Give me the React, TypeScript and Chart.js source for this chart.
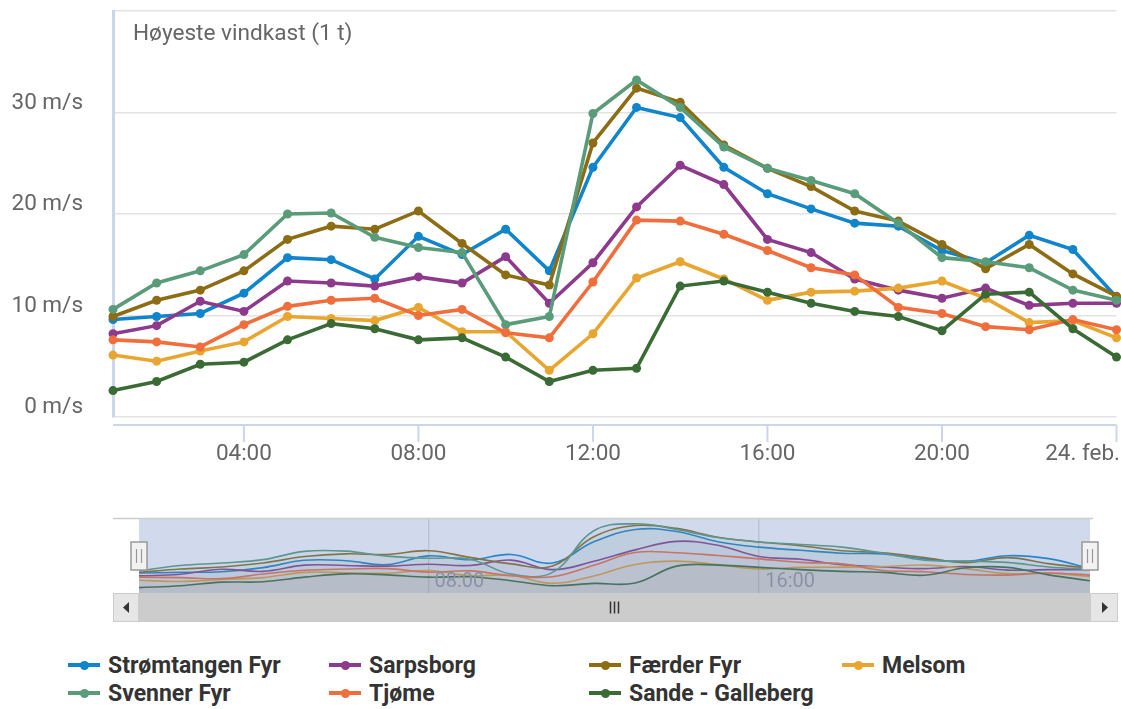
import React, { useEffect, useRef } from "react";
import { Chart, registerables } from "chart.js";

Chart.register(...registerables);
Chart.defaults.font.family = "Roboto";

// ---- data ----
const hours = [1, 2, 3, 4, 5, 6, 7, 8, 9, 10, 11, 12, 13, 14, 15, 16, 17, 18, 19, 20, 21, 22, 23, 24];

const stromtangenFyr = [9.6, 9.9, 10.2, 12.2, 15.7, 15.5, 13.6, 17.8, 16.0, 18.5, 14.4, 24.6, 30.5, 29.5, 24.6, 22.0, 20.5, 19.1, 18.8, 16.4, 15.2, 17.9, 16.5, 11.8];
const sarpsborg = [8.2, 9.0, 11.4, 10.4, 13.4, 13.2, 12.9, 13.8, 13.2, 15.8, 11.2, 15.2, 20.7, 24.8, 22.9, 17.5, 16.2, 13.6, 12.5, 11.7, 12.7, 11.0, 11.2, 11.2];
const faerderFyr = [9.9, 11.5, 12.5, 14.4, 17.5, 18.8, 18.5, 20.3, 17.1, 14.0, 13.0, 27.0, 32.4, 31.0, 26.8, 24.5, 22.7, 20.3, 19.3, 17.0, 14.6, 17.0, 14.1, 11.9];
const melsom = [6.1, 5.5, 6.5, 7.4, 9.9, 9.7, 9.5, 10.8, 8.4, 8.4, 4.6, 8.2, 13.7, 15.3, 13.6, 11.5, 12.3, 12.4, 12.7, 13.4, 11.7, 9.3, 9.5, 7.8];
const svennerFyr = [10.6, 13.2, 14.4, 16.0, 20.0, 20.1, 17.7, 16.7, 16.2, 9.1, 9.9, 29.9, 33.2, 30.5, 26.6, 24.5, 23.3, 22.0, 19.1, 15.7, 15.3, 14.7, 12.5, 11.5];
const tjome = [7.6, 7.4, 6.9, 9.1, 10.9, 11.5, 11.7, 10.0, 10.6, 8.3, 7.8, 13.3, 19.4, 19.3, 18.0, 16.4, 14.7, 14.0, 10.8, 10.2, 8.9, 8.6, 9.6, 8.6];
const sandeGalleberg = [2.6, 3.5, 5.2, 5.4, 7.6, 9.2, 8.7, 7.6, 7.8, 5.9, 3.5, 4.6, 4.8, 12.9, 13.4, 12.3, 11.2, 10.4, 9.9, 8.5, 12.1, 12.3, 8.7, 5.9];

const seriesNames = ["Strømtangen Fyr", "Sarpsborg", "Færder Fyr", "Melsom", "Svenner Fyr", "Tjøme", "Sande - Galleberg"];
const seriesValues = [stromtangenFyr, sarpsborg, faerderFyr, melsom, svennerFyr, tjome, sandeGalleberg];

const xTickValues = [4, 8, 12, 16, 20, 24];
const xTickLabels = ["04:00", "08:00", "12:00", "16:00", "20:00", "24. feb."];
const navTickValues = [8, 16];
const navTickLabels = ["08:00", "16:00"];
const yTickValues = [0, 10, 20, 30, 40];
const yUnit = " m/s";
const chartTitle = "Høyeste vindkast (1 t)";

// ---- styles ----
const seriesColors = ["#1085cc", "#8e3a8c", "#8c6d14", "#e8a530", "#5a9c7a", "#f06e3c", "#3b6b35"];

function withAlpha(hex: string, a: number) {
  const r = parseInt(hex.slice(1, 3), 16);
  const g = parseInt(hex.slice(3, 5), 16);
  const b = parseInt(hex.slice(5, 7), 16);
  return `rgba(${r},${g},${b},${a})`;
}

const toPoints = (vals: number[]) => vals.map((v, i) => ({ x: hours[i], y: v }));

const mainXAxisPlugin = {
  id: "mainXAxis",
  afterDraw(chart: any) {
    const { ctx, chartArea, scales } = chart;
    const xs = scales.x;
    const axisY = chartArea.bottom + 8;
    ctx.save();
    ctx.strokeStyle = "#ccd6eb";
    ctx.lineWidth = 2;
    ctx.beginPath();
    ctx.moveTo(chartArea.left, axisY);
    ctx.lineTo(chartArea.right, axisY);
    ctx.stroke();
    ctx.font = "22.5px Roboto";
    ctx.fillStyle = "#666666";
    ctx.textBaseline = "middle";
    ctx.textAlign = "center";
    xTickValues.forEach((v, i) => {
      const px = xs.getPixelForValue(v);
      ctx.beginPath();
      ctx.moveTo(px, axisY);
      ctx.lineTo(px, axisY + 17);
      ctx.stroke();
      const label = xTickLabels[i];
      const w = ctx.measureText(label).width;
      let cx = px;
      if (cx + w / 2 > chart.width - 1) cx = chart.width - 1 - w / 2;
      ctx.fillText(label, cx, axisY + 29);
    });
    ctx.restore();
  },
};

const navigatorPlugin = {
  id: "navigatorDeco",
  afterDatasetsDraw(chart: any) {
    const { ctx, chartArea, scales } = chart;
    const xs = scales.x;
    const { left, right, top, bottom } = chartArea;
    ctx.save();
    // labels inside navigator
    ctx.font = "20px Roboto";
    ctx.fillStyle = "#999999";
    ctx.textBaseline = "alphabetic";
    ctx.textAlign = "left";
    navTickValues.forEach((v, i) => {
      ctx.fillText(navTickLabels[i], xs.getPixelForValue(v) + 6, bottom - 6);
    });
    // mask
    ctx.fillStyle = "rgba(102,133,194,0.3)";
    ctx.fillRect(left, top, right - left, bottom - top);
    // outline
    ctx.strokeStyle = "#cccccc";
    ctx.lineWidth = 1.5;
    ctx.beginPath();
    ctx.moveTo(left - 26, top + 0.5);
    ctx.lineTo(right + 3, top + 0.5);
    ctx.stroke();
    // scrollbar
    const sTop = bottom;
    const sH = 29;
    ctx.fillStyle = "#cccccc";
    ctx.fillRect(left, sTop, right - left, sH);
    ctx.fillStyle = "#e6e6e6";
    ctx.strokeStyle = "#cccccc";
    ctx.lineWidth = 1;
    ctx.fillRect(left - 26, sTop, 26, sH);
    ctx.strokeRect(left - 25.5, sTop + 0.5, 25, sH - 1);
    ctx.fillRect(right, sTop, 28, sH);
    ctx.strokeRect(right + 0.5, sTop + 0.5, 27, sH - 1);
    ctx.fillStyle = "#333333";
    const my = sTop + sH / 2;
    ctx.beginPath();
    ctx.moveTo(left - 16, my);
    ctx.lineTo(left - 10, my - 5.5);
    ctx.lineTo(left - 10, my + 5.5);
    ctx.closePath();
    ctx.fill();
    ctx.beginPath();
    ctx.moveTo(right + 18, my);
    ctx.lineTo(right + 12, my - 5.5);
    ctx.lineTo(right + 12, my + 5.5);
    ctx.closePath();
    ctx.fill();
    const gx = (left + right) / 2;
    ctx.strokeStyle = "#333333";
    ctx.lineWidth = 1.5;
    [-4, 0, 4].forEach((d) => {
      ctx.beginPath();
      ctx.moveTo(gx + d, my - 6);
      ctx.lineTo(gx + d, my + 6);
      ctx.stroke();
    });
    // handles
    [left, right].forEach((cx) => {
      ctx.fillStyle = "#f2f2f2";
      ctx.strokeStyle = "#999999";
      ctx.lineWidth = 1.5;
      ctx.fillRect(cx - 8, top + 24, 16, 28);
      ctx.strokeRect(cx - 8, top + 24, 16, 28);
      ctx.lineWidth = 1.2;
      [-2.5, 2.5].forEach((d) => {
        ctx.beginPath();
        ctx.moveTo(cx + d, top + 31);
        ctx.lineTo(cx + d, top + 45);
        ctx.stroke();
      });
    });
    ctx.restore();
  },
};

export default function App() {
  const mainRef = useRef<HTMLCanvasElement>(null);
  const navRef = useRef<HTMLCanvasElement>(null);

  useEffect(() => {
    const n = seriesValues.length;
    const main = new Chart(mainRef.current as HTMLCanvasElement, {
      type: "line",
      data: {
        datasets: seriesValues.map((vals, i) => ({
          label: seriesNames[i],
          data: toPoints(vals),
          borderColor: seriesColors[i],
          backgroundColor: seriesColors[i],
          pointBackgroundColor: seriesColors[i],
          pointBorderWidth: 0,
          pointRadius: 4.5,
          borderWidth: 3.6,
          tension: 0,
          clip: false as any,
          order: n - i,
        })),
      },
      options: {
        responsive: false,
        animation: false,
        events: [],
        layout: { padding: { top: 11, right: 4, left: 0, bottom: 0 } },
        plugins: { legend: { display: false }, tooltip: { enabled: false }, title: { display: false } },
        scales: {
          x: {
            type: "linear",
            min: hours[0],
            max: hours[hours.length - 1],
            ticks: { display: false },
            grid: { display: false },
            border: { display: false },
            afterFit: (s: any) => {
              s.height = 63;
              s.paddingLeft = 0;
              s.paddingRight = 0;
            },
          },
          y: {
            type: "linear",
            min: yTickValues[0],
            max: yTickValues[yTickValues.length - 1],
            afterBuildTicks: (s: any) => {
              s.ticks = yTickValues.map((v) => ({ value: v }));
            },
            ticks: {
              callback: (v: any) => (v === yTickValues[yTickValues.length - 1] ? "" : v + yUnit),
              font: { size: 22.5, family: "Roboto" },
              color: "#666666",
              padding: 30,
              labelOffset: -9.5,
            },
            grid: { color: "#e3e3e3", lineWidth: 1.5, drawTicks: false },
            border: { display: true, color: "#ccd6eb", width: 3 },
            afterFit: (s: any) => {
              s.width = 113;
              s.paddingTop = 0;
              s.paddingBottom = 0;
            },
          },
        },
      },
      plugins: [mainXAxisPlugin],
    });

    const nav = new Chart(navRef.current as HTMLCanvasElement, {
      type: "line",
      data: {
        datasets: seriesValues.map((vals, i) => ({
          label: seriesNames[i],
          data: toPoints(vals),
          borderColor: seriesColors[i],
          backgroundColor: withAlpha(seriesColors[i], 0.05),
          fill: "origin",
          pointRadius: 0,
          borderWidth: 1.6,
          tension: 0.4,
          order: n - i,
        })),
      },
      options: {
        responsive: false,
        animation: false,
        events: [],
        layout: { padding: { top: 18, right: 31, left: 139, bottom: 37 } },
        plugins: { legend: { display: false }, tooltip: { enabled: false }, title: { display: false } },
        scales: {
          x: {
            type: "linear",
            min: hours[0],
            max: hours[hours.length - 1],
            afterBuildTicks: (s: any) => {
              s.ticks = navTickValues.map((v) => ({ value: v }));
            },
            ticks: { display: false },
            grid: { color: "#e0e0e0", lineWidth: 1.5, drawTicks: false },
            border: { display: false },
            afterFit: (s: any) => {
              s.height = 0;
              s.paddingLeft = 0;
              s.paddingRight = 0;
            },
          },
          y: { type: "linear", min: 0, max: 36, display: false },
        },
      },
      plugins: [navigatorPlugin],
    });

    return () => {
      main.destroy();
      nav.destroy();
    };
  }, []);

  const legendCols = [68, 329, 589, 842];
  const legendRows = [665, 693];

  return (
    <div style={{ position: "absolute", left: 0, top: 0, width: 1121, height: 709, background: "#ffffff", overflow: "hidden", fontFamily: "Roboto" }}>
      <canvas ref={mainRef} width={1121} height={480} style={{ position: "absolute", left: 0, top: 0 }} />
      <div style={{ position: "absolute", left: 133, top: 21.5, fontSize: 22.6, lineHeight: 1, color: "#666666", whiteSpace: "nowrap" }}>{chartTitle}</div>
      <canvas ref={navRef} width={1121} height={130} style={{ position: "absolute", left: 0, top: 500 }} />
      {seriesNames.map((name, i) => {
        const col = legendCols[i % 4];
        const row = legendRows[Math.floor(i / 4)];
        return (
          <div key={name}>
            <div style={{ position: "absolute", left: col, top: row - 2, width: 32, height: 4, background: seriesColors[i] }} />
            <div style={{ position: "absolute", left: col + 11.5, top: row - 4.5, width: 9, height: 9, borderRadius: "50%", background: seriesColors[i] }} />
            <div style={{ position: "absolute", left: col + 40, top: row - 11.2, fontSize: 23, lineHeight: 1, fontWeight: 700, color: "#333333", whiteSpace: "nowrap" }}>{name}</div>
          </div>
        );
      })}
    </div>
  );
}
